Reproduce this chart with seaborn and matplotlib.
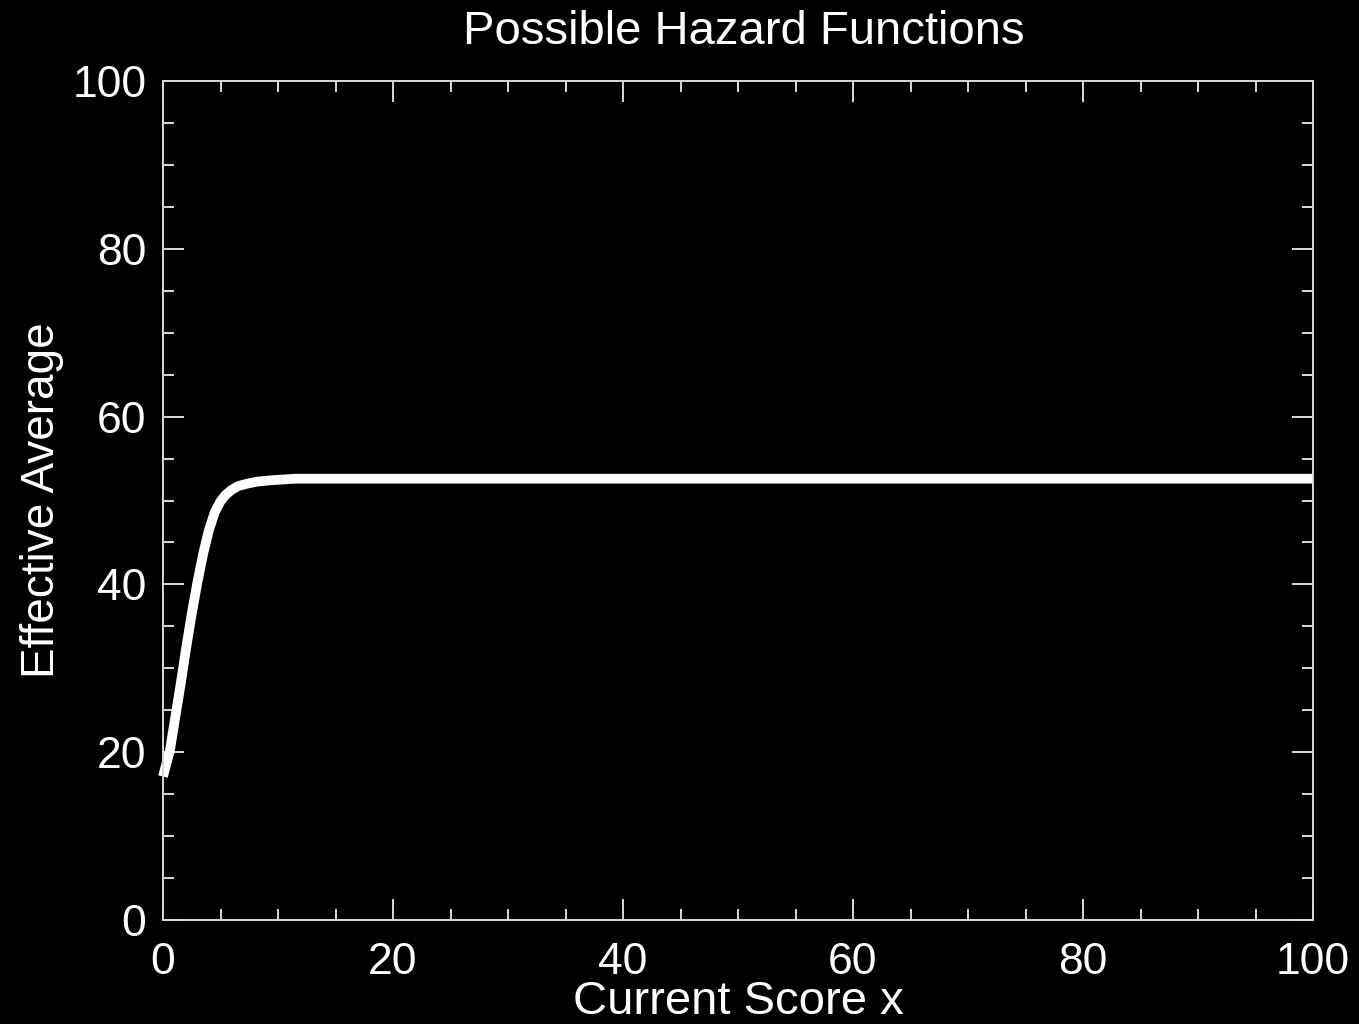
import matplotlib
matplotlib.use("Agg")
import matplotlib.pyplot as plt
from matplotlib.ticker import MultipleLocator
import pandas as pd
import seaborn as sns

# Effective average as a function of the current score
score = [0.0, 0.6, 1.0, 1.5, 2.0, 2.5, 3.0, 3.5, 4.0, 4.5, 5.0, 5.4, 5.9, 6.5, 7.3, 8.2, 9.3, 11.5, 100.0]
effective_avg = [17.1, 20.2, 23.6, 27.8, 32.3, 36.5, 40.3, 43.7, 46.5, 48.6, 49.9, 50.6, 51.2, 51.7, 52.0, 52.25, 52.4, 52.6, 52.6]

x_ticks = [0, 20, 40, 60, 80, 100]
y_ticks = [0, 20, 40, 60, 80, 100]

title_text = "Possible Hazard Functions"
x_label = "Current Score x"
y_label = "Effective Average"

df = pd.DataFrame({"score": score, "effective_avg": effective_avg})

sns.set_theme(style="dark", rc={
    "figure.facecolor": "black",
    "axes.facecolor": "black",
    "axes.edgecolor": "#d9d9d9",
    "axes.linewidth": 1.4,
    "text.color": "white",
    "axes.labelcolor": "white",
    "xtick.color": "#d9d9d9",
    "ytick.color": "#d9d9d9",
    "xtick.labelcolor": "white",
    "ytick.labelcolor": "white",
})
plt.rcParams["font.family"] = ["Liberation Sans", "DejaVu Sans"]

fig = plt.figure(figsize=(13.59, 10.24), dpi=100)
ax = fig.add_axes([163 / 1359, 1 - 920 / 1024, (1313 - 163) / 1359, (920 - 81) / 1024])

sns.lineplot(data=df, x="score", y="effective_avg", ax=ax, color="white",
             linewidth=7, solid_capstyle="butt", solid_joinstyle="round",
             clip_on=False)

ax.set_xlim(0, 100)
ax.set_ylim(0, 100)
ax.set_xticks(x_ticks)
ax.set_yticks(y_ticks)
ax.xaxis.set_minor_locator(MultipleLocator(5))
ax.yaxis.set_minor_locator(MultipleLocator(5))
ax.tick_params(which="both", direction="in", top=True, right=True,
               bottom=True, left=True, width=1.4, color="#d9d9d9")
ax.tick_params(which="major", length=15, labelsize=32)
ax.tick_params(axis="x", which="major", pad=16)
ax.tick_params(axis="y", which="major", pad=12)
ax.tick_params(which="minor", length=8)
ax.grid(False)
for s in ax.spines.values():
    s.set_visible(True)
    s.set_color("#d9d9d9")

ax.set_xlabel(x_label, fontsize=34, labelpad=-2)
ax.set_ylabel(y_label, fontsize=33, labelpad=6)
fig.text(744 / 1359, 1 - 32 / 1024, title_text, fontsize=34, color="white",
         ha="center", va="center")

fig.savefig("out.png", dpi=100, facecolor="black")
